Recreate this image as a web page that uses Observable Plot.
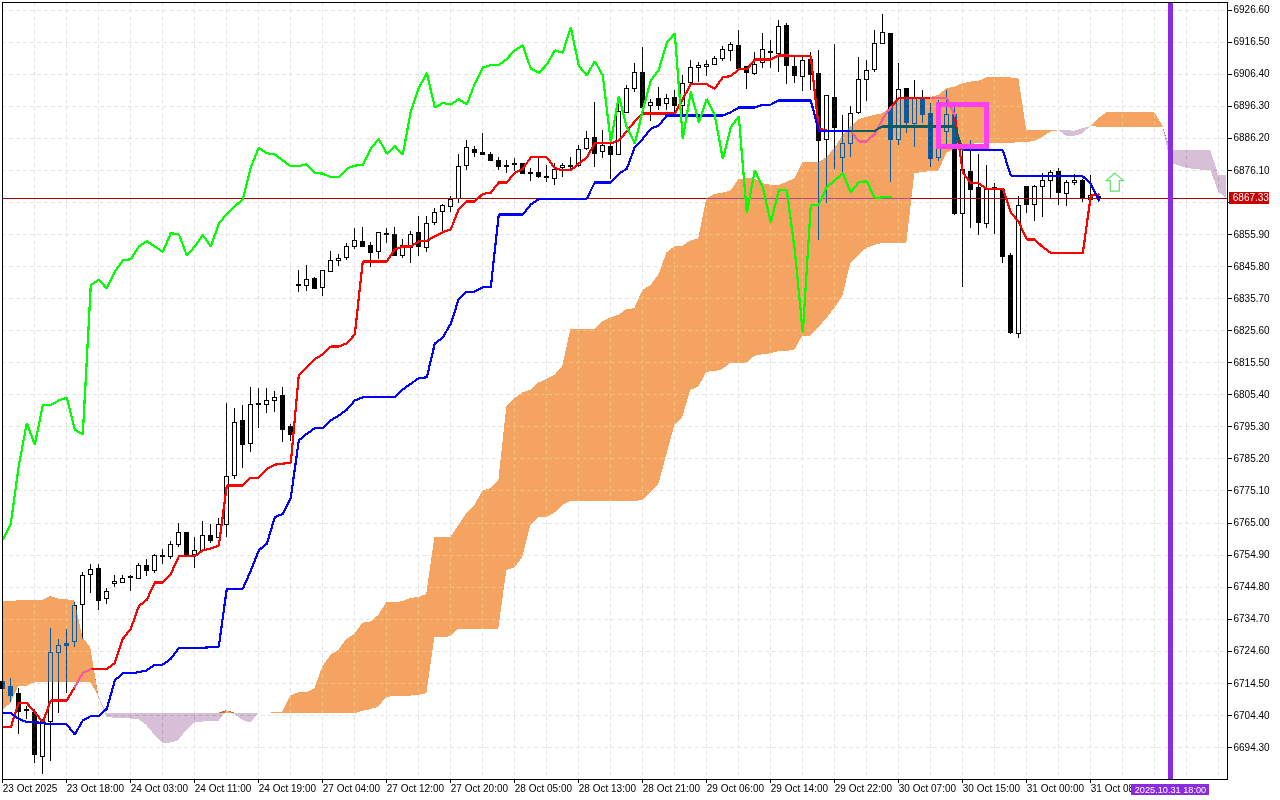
<!DOCTYPE html>
<html>
<head>
<meta charset="utf-8">
<style>html,body{margin:0;padding:0;background:#fff;overflow:hidden}svg{display:block}</style>
<script src="https://cdn.jsdelivr.net/npm/d3@7"></script>
<script src="https://cdn.jsdelivr.net/npm/@observablehq/plot@0.6"></script>
</head>
<body>
<div id="chart"></div>
<script>
const opens = [
6714.8,6713.2,6711.0,6706.0,6705.2,6691.2,6702.3,6724.1,6727.0,6727.5,
6739.3,6748.7,6750.6,6741.0,6745.9,6746.2,6747.9,6747.4,6751.6,6749.8,
6754.7,6754.3,6758.1,6761.9,6754.8,6756.1,6761.0,6760.2,6764.5,6779.8,
6797.2,6790.0,6802.6,6802.2,6803.5,6804.9,6795.3,6840.0,6839.7,6841.8,
6839.1,6844.1,6847.6,6848.4,6851.9,6853.6,6852.4,6850.4,6856.1,6855.8,
6849.1,6851.7,6856.4,6851.7,6859.5,6863.0,6864.6,6867.1,6877.5,6882.6,
6881.7,6881.0,6879.1,6877.6,6878.2,6878.2,6875.3,6875.3,6874.1,6873.3,
6876.9,6877.3,6877.6,6882.9,6886.3,6881.8,6883.6,6881.0,6894.2,6901.7,
6906.8,6896.3,6898.6,6896.9,6899.0,6896.3,6903.6,6908.4,6908.7,6909.4,
6911.1,6913.8,6915.4,6908.6,6906.4,6910.0,6913.4,6912.6,6921.6,6908.8,
6905.6,6910.9,6906.3,6885.7,6899.0,6880.1,6884.5,6894.1,6904.6,6907.6,
6916.0,6919.2,6885.7,6901.6,6890.8,6898.4,6893.7,6880.0,6888.1,6893.4,
6862.4,6875.7,6870.4,6859.3,6870.4,6869.8,6849.0,6824.6,6870.7,6865.1,
6870.8,6872.8,6875.7,6868.7,6872.2,6872.6,6866.8,6867.5];
const highs = [
6715.4,6716.1,6713.0,6707.3,6706.3,6703.1,6731.7,6728.3,6731.4,6739.9,
6749.5,6751.9,6751.9,6744.3,6748.4,6748.5,6748.5,6752.2,6753.4,6755.1,
6756.6,6759.2,6764.8,6762.0,6760.4,6765.5,6764.5,6766.4,6802.6,6801.0,
6802.0,6807.6,6807.3,6807.3,6806.4,6807.8,6796.0,6844.6,6846.1,6842.3,
6844.6,6850.5,6849.5,6853.1,6857.8,6858.0,6853.3,6856.5,6857.9,6858.0,
6854.2,6856.7,6861.5,6861.5,6864.0,6865.3,6867.9,6881.0,6885.5,6883.6,
6887.8,6881.6,6880.1,6879.2,6879.7,6878.3,6876.8,6880.2,6877.6,6878.2,
6878.4,6880.2,6883.9,6888.4,6897.4,6888.6,6886.5,6897.6,6902.8,6909.7,
6914.7,6898.3,6902.1,6900.0,6901.3,6906.0,6910.7,6910.2,6910.7,6912.0,
6915.1,6916.5,6920.2,6908.8,6913.1,6919.1,6917.0,6923.3,6922.4,6912.0,
6911.7,6913.2,6913.9,6899.7,6915.6,6893.4,6896.2,6911.7,6910.7,6920.2,
6925.2,6919.2,6909.7,6901.8,6904.4,6901.3,6897.2,6898.1,6901.3,6896.0,
6882.4,6885.5,6881.0,6877.6,6871.9,6870.3,6849.8,6867.9,6870.8,6871.3,
6875.0,6876.1,6876.6,6872.9,6874.8,6873.1,6874.5,6868.7];
const lows = [
6706.0,6708.4,6698.4,6703.1,6689.4,6685.8,6690.0,6704.9,6711.4,6725.9,
6728.2,6742.9,6737.5,6739.3,6744.8,6745.9,6743.5,6747.4,6748.2,6749.2,
6751.9,6753.4,6757.4,6754.6,6750.6,6755.7,6758.5,6760.1,6760.5,6778.7,
6782.3,6787.3,6794.9,6799.6,6799.9,6790.5,6790.8,6837.7,6838.0,6838.5,
6836.5,6843.8,6845.9,6847.7,6851.2,6851.8,6845.6,6848.0,6853.0,6849.0,
6848.4,6846.9,6849.0,6850.3,6858.7,6856.9,6862.9,6865.6,6876.1,6880.2,
6880.8,6878.9,6876.1,6875.2,6875.8,6874.8,6872.7,6873.4,6872.4,6871.3,
6873.9,6876.1,6877.1,6882.4,6876.9,6879.7,6873.2,6880.9,6893.9,6900.7,
6895.5,6891.6,6895.0,6895.0,6893.9,6892.8,6902.3,6903.9,6905.8,6909.1,
6910.4,6910.5,6907.6,6901.6,6906.0,6908.1,6908.1,6907.0,6903.1,6903.4,
6901.0,6901.3,6854.0,6865.8,6876.5,6875.1,6880.1,6893.7,6897.9,6907.0,
6916.0,6872.4,6883.9,6887.8,6883.4,6890.8,6877.1,6878.9,6884.2,6861.9,
6839.3,6857.9,6855.6,6857.7,6855.9,6846.9,6824.3,6823.2,6862.6,6860.1,
6861.3,6867.3,6865.0,6864.8,6871.3,6866.1,6866.1,6866.6];
const closes = [
6712.6,6710.5,6705.4,6705.8,6691.9,6702.8,6724.1,6726.3,6726.4,6738.9,
6748.4,6750.3,6740.6,6743.3,6746.5,6747.4,6747.8,6751.5,6749.8,6754.5,
6754.4,6758.1,6761.9,6754.8,6756.3,6761.0,6759.3,6764.5,6779.4,6796.6,
6789.7,6802.2,6802.1,6803.4,6804.5,6794.2,6792.6,6839.6,6841.5,6838.8,
6844.5,6847.6,6848.2,6852.0,6853.9,6851.9,6850.2,6856.4,6855.7,6849.2,
6852.2,6855.8,6852.0,6859.3,6862.7,6864.9,6866.8,6877.2,6883.1,6881.6,
6880.9,6879.0,6877.1,6877.2,6877.9,6874.9,6875.0,6873.9,6873.8,6876.3,
6877.5,6877.6,6882.6,6885.9,6881.2,6883.8,6880.9,6894.4,6901.7,6906.8,
6895.7,6897.3,6896.5,6898.6,6896.5,6903.4,6908.3,6909.0,6909.4,6911.2,
6914.1,6915.6,6908.0,6906.7,6909.4,6914.1,6913.0,6921.2,6908.9,6905.8,
6910.6,6906.0,6885.3,6899.6,6889.4,6884.5,6893.9,6904.6,6907.5,6916.0,
6919.4,6885.7,6901.3,6891.0,6898.6,6893.4,6879.6,6885.7,6893.4,6862.2,
6876.3,6869.8,6859.5,6870.0,6870.1,6848.9,6824.9,6864.9,6865.1,6870.7,
6872.8,6875.4,6869.0,6872.2,6872.9,6867.0,6868.0,6867.6];
const tenkan = [
6700.7,6700.7,6708.3,6708.3,6705.4,6702.3,6709.1,6709.1,6709.1,6713.3,
6717.8,6718.9,6719.0,6719.0,6720.9,6728.5,6731.7,6738.8,6740.8,6746.3,
6746.3,6749.0,6754.5,6754.5,6754.5,6756.4,6757.0,6757.8,6776.8,6776.8,
6776.8,6779.3,6779.3,6782.1,6783.4,6783.7,6784.0,6811.7,6814.1,6816.7,
6818.1,6820.6,6820.6,6821.6,6824.4,6847.4,6847.4,6847.4,6847.4,6851.2,
6852.1,6852.1,6853.7,6853.9,6855.3,6856.6,6857.5,6864.0,6866.3,6866.3,
6868.7,6869.0,6872.3,6872.3,6875.3,6876.6,6880.2,6880.2,6880.2,6876.8,
6876.1,6876.1,6878.2,6880.2,6884.6,6884.6,6884.6,6885.5,6888.4,6891.5,
6894.0,6894.0,6894.0,6894.0,6894.0,6898.6,6903.2,6903.2,6903.2,6901.8,
6905.4,6905.8,6907.9,6907.9,6911.0,6911.0,6911.0,6912.3,6912.3,6912.1,
6912.1,6912.1,6889.2,6888.6,6888.6,6888.6,6888.6,6885.2,6885.2,6887.6,
6892.3,6896.0,6898.8,6898.8,6898.8,6898.8,6898.8,6898.8,6898.8,6893.4,
6875.4,6872.0,6872.0,6870.3,6870.3,6870.3,6862.9,6859.8,6854.3,6854.3,
6851.9,6850.1,6850.0,6850.0,6850.0,6850.0,6868.1,6868.5];
const kijun = [
6705.1,6705.1,6703.3,6702.3,6702.3,6702.0,6701.6,6701.6,6701.6,6698.4,
6702.8,6704.2,6704.2,6706.5,6715.4,6717.7,6717.7,6718.0,6718.6,6720.4,
6720.4,6722.2,6725.6,6725.6,6725.6,6725.7,6725.9,6726.1,6744.3,6744.3,
6744.3,6750.0,6756.4,6758.5,6766.8,6767.9,6773.0,6791.0,6793.1,6794.9,
6794.9,6797.3,6798.9,6800.7,6803.6,6804.6,6804.6,6804.6,6804.6,6804.6,
6807.1,6808.9,6810.6,6810.9,6821.5,6823.5,6827.8,6835.6,6837.9,6837.9,
6839.3,6839.3,6862.2,6862.2,6862.2,6862.2,6865.3,6867.0,6867.0,6867.0,
6867.0,6867.0,6867.0,6867.2,6872.3,6872.3,6872.3,6875.0,6876.6,6883.4,
6886.0,6889.2,6890.2,6893.4,6893.4,6893.4,6893.4,6893.4,6893.4,6893.4,
6893.4,6894.4,6895.9,6895.9,6895.9,6896.8,6896.8,6898.1,6898.1,6898.1,
6898.1,6898.1,6888.6,6888.6,6888.6,6888.6,6888.6,6888.6,6888.6,6888.6,
6889.9,6889.9,6889.9,6889.9,6889.9,6889.9,6889.9,6889.9,6889.9,6889.9,
6882.4,6882.4,6882.4,6882.4,6882.4,6882.4,6874.5,6874.2,6874.2,6874.2,
6874.2,6874.2,6874.2,6874.2,6874.2,6874.2,6871.9,6866.6];
const chikou = [
6759.8,6764.8,6783.1,6796.5,6789.7,6802.2,6802.2,6803.6,6804.5,6794.4,
6792.9,6840.0,6841.6,6838.9,6844.2,6847.7,6848.1,6852.1,6853.8,6852.1,
6850.4,6856.3,6856.0,6849.3,6852.1,6855.7,6852.1,6859.3,6862.4,6864.8,
6866.9,6877.1,6883.2,6881.5,6881.1,6879.2,6877.4,6877.4,6878.0,6875.2,
6875.1,6873.9,6873.9,6876.6,6877.6,6877.8,6882.9,6886.0,6881.3,6883.7,
6881.0,6894.7,6902.0,6906.8,6895.9,6897.3,6896.8,6898.5,6896.8,6903.4,
6908.5,6909.2,6909.2,6911.2,6913.9,6915.5,6908.1,6906.8,6909.4,6913.9,
6913.2,6921.2,6909.0,6906.0,6910.5,6906.0,6885.0,6899.5,6889.7,6884.5,
6895.0,6904.4,6907.8,6916.3,6919.3,6886.0,6900.9,6891.1,6898.6,6893.4,
6879.7,6889.7,6893.1,6862.6,6876.1,6870.8,6859.7,6869.8,6869.8,6850.9,
6824.9,6865.0,6865.3,6870.8,6872.9,6875.2,6869.1,6872.4,6872.7,6867.3,
6867.6,6867.6];
const spanA = [
6740.3,6740.3,6740.5,6740.6,6740.6,6740.6,6741.9,6741.0,6740.8,6740.6,
6729.0,6725.7,6710.0,6703.8,6703.5,6703.3,6703.3,6703.1,6701.2,6698.1,
6695.5,6695.7,6696.5,6699.7,6702.0,6702.3,6702.5,6702.5,6705.9,6704.7,
6702.8,6702.0,6705.1,6705.1,6705.2,6705.4,6710.5,6711.5,6711.5,6712.8,
6719.6,6723.3,6724.9,6728.3,6729.9,6733.4,6733.8,6735.9,6739.9,6739.9,
6740.2,6741.3,6741.5,6742.5,6760.4,6760.4,6760.4,6764.2,6767.9,6770.5,
6775.0,6775.8,6778.2,6801.5,6804.1,6806.0,6806.8,6809.1,6810.2,6811.5,
6814.3,6825.9,6826.0,6826.0,6826.0,6828.3,6829.6,6830.4,6832.2,6832.5,
6838.3,6839.8,6843.0,6850.0,6852.1,6852.2,6853.8,6854.5,6867.1,6868.5,
6868.9,6869.5,6873.1,6873.4,6873.4,6871.9,6871.4,6871.3,6872.3,6873.4,
6878.5,6878.5,6878.5,6880.1,6882.9,6887.1,6889.7,6892.0,6892.8,6893.4,
6893.9,6895.8,6898.1,6898.8,6898.8,6898.8,6899.1,6899.7,6901.8,6902.3,
6903.4,6903.9,6904.1,6905.2,6905.2,6905.2,6905.2,6905.1,6888.6,6888.6,
6888.6,6888.6,6888.6,6886.8,6886.8,6887.6,6889.9,6892.3,6894.2,6894.2,
6894.2,6894.2,6894.2,6894.2,6894.2,6890.2,6878.3,6877.6,6876.7,6876.4,
6876.1,6876.1,6869.2,6867.1];
const spanB = [
6706.0,6708.1,6713.6,6713.6,6714.7,6714.7,6714.7,6714.7,6714.7,6714.7,
6714.7,6714.7,6710.4,6705.1,6705.1,6705.1,6705.1,6705.1,6705.1,6705.1,
6705.1,6705.1,6705.1,6705.1,6705.1,6705.1,6705.1,6705.1,6705.1,6705.1,
6705.1,6705.1,6705.1,6705.1,6705.1,6705.1,6705.1,6705.1,6705.1,6705.1,
6705.1,6705.1,6705.1,6705.1,6704.9,6705.7,6706.2,6707.0,6710.1,6710.3,
6710.3,6710.5,6710.7,6711.2,6728.9,6728.9,6729.2,6731.6,6731.6,6731.6,
6731.6,6731.6,6731.6,6750.0,6750.8,6754.2,6764.2,6766.7,6766.7,6768.1,
6770.5,6771.8,6771.8,6771.8,6771.8,6771.8,6771.8,6771.8,6771.8,6771.8,
6772.1,6774.6,6777.1,6786.4,6795.7,6798.3,6806.8,6807.8,6812.5,6812.7,
6813.3,6815.4,6815.4,6815.4,6817.5,6818.0,6818.3,6819.0,6819.1,6819.4,
6823.9,6823.9,6826.5,6829.4,6832.6,6836.4,6846.8,6849.3,6851.5,6852.4,
6853.1,6853.1,6853.1,6853.1,6875.1,6875.4,6875.7,6875.8,6881.4,6882.7,
6883.9,6884.2,6884.6,6884.6,6884.6,6884.6,6884.6,6884.8,6884.8,6885.3,
6886.5,6888.1,6888.6,6888.6,6888.4,6889.2,6889.9,6889.7,6889.7,6889.7,
6889.7,6889.7,6889.7,6889.7,6889.7,6889.7,6882.4,6882.4,6882.4,6882.4,
6882.4,6882.4,6874.5,6874.5];
const priceTicks = [6926.6,6916.5,6906.4,6896.3,6886.2,6876.1,6866.0,6855.9,6845.8,6835.7,6825.6,6815.5,6805.4,6795.3,6785.2,6775.1,6765.0,6754.9,6744.8,6734.7,6724.6,6714.5,6704.4,6694.3];
const hiddenPriceTick = 6866.0;
const timeTicks = [0,8,16,24,32,40,48,56,64,72,80,88,96,104,112,120,128,136];
const timeLabels = ["23 Oct 2025","23 Oct 18:00","24 Oct 03:00","24 Oct 11:00","24 Oct 19:00","27 Oct 04:00","27 Oct 12:00","27 Oct 20:00","28 Oct 05:00","28 Oct 13:00","28 Oct 21:00","29 Oct 06:00","29 Oct 14:00","29 Oct 22:00","30 Oct 07:00","30 Oct 15:00","31 Oct 00:00","31 Oct 08"];
const lastPrice = 6867.33;
const markerBar = 146;
const markerLabel = "2025.10.31 18:00";
const arrowBar = 139, arrowPrice = 6872.4;
const boxBars = [117.03, 123.03], boxPrices = [6896.7, 6883.6];

const FONT = '"Liberation Sans", Arial, sans-serif';
const bars = opens.map((o, i) => ({i, o, h: highs[i], l: lows[i], c: closes[i], top: Math.max(o, closes[i]), bot: Math.min(o, closes[i]), t: tenkan[i], k: kijun[i]}));
const cloud = spanA.map((a, i) => ({i, a, b: spanB[i], hi: Math.max(a, spanB[i])}));
const lag = chikou.map((v, i) => ({i, v}));
const gridX = d3.range(4, 154, 4);
const crisp = {shapeRendering: "crispEdges"};
const gridStyle = {strokeDasharray: "4,3", ...crisp};
const arrowSymbol = {draw(c, size) {
  const r = Math.sqrt(size / Math.PI), u = r / 9;
  c.moveTo(0, -9*u); c.lineTo(8.5*u, -1.5*u); c.lineTo(4.5*u, -1.5*u); c.lineTo(4.5*u, 9*u);
  c.lineTo(-4.5*u, 9*u); c.lineTo(-4.5*u, -1.5*u); c.lineTo(-8.5*u, -1.5*u); c.closePath();
}};
const pick = (a, b) => bars.filter(d => d.i >= a && d.i <= b);
const lineOpt = (y, stroke) => ({x: "i", y, stroke, strokeWidth: 2.2, strokeLinejoin: "miter", ...crisp});

const chart = Plot.plot({
  width: 1280, height: 800,
  marginLeft: 2, marginTop: 2, marginRight: 53, marginBottom: 21,
  style: {background: "white", fontFamily: FONT, fontSize: "10px", color: "black", overflow: "visible"},
  x: {domain: [-0.0375, 153.09], axis: null},
  y: {domain: [6684.215, 6928.97], axis: null},
  marks: [
    Plot.frame({fill: "white", stroke: "none"}),
    Plot.ruleY(priceTicks, {stroke: "#e3e3e3", ...gridStyle}),
    Plot.ruleX(gridX, {stroke: "#e3e3e3", ...gridStyle}),
    Plot.areaY(cloud, {x: "i", y1: "b", y2: "hi", fill: "#F4A460", ...crisp}),
    Plot.ruleY(priceTicks, {stroke: "#e5be7a", mixBlendMode: "lighten", ...gridStyle}),
    Plot.ruleX(gridX, {stroke: "#e5be7a", mixBlendMode: "lighten", ...gridStyle}),
    Plot.areaY(cloud, {x: "i", y1: "a", y2: "hi", fill: "#274027", mixBlendMode: "difference", ...crisp}),
    Plot.ruleX(bars, {x: "i", y1: "h", y2: "top", stroke: "white", className: "cndl", ...crisp}),
    Plot.ruleX(bars, {x: "i", y1: "l", y2: "bot", stroke: "white", className: "cndl", ...crisp}),
    Plot.rect(bars, {x1: d => d.i - 0.25, x2: d => d.i + 0.25, y1: "top", y2: "bot", fill: d => d.c > d.o ? "none" : "white", stroke: "white", className: "cndl", ...crisp}),
    Plot.ruleY([lastPrice], {stroke: "#a80000", ...crisp}),
    Plot.ruleY([lastPrice], {x1: 88, x2: 113.6, stroke: "#a8508f", ...crisp}),
    Plot.line(bars, lineOpt("t", "#ff0000")),
    Plot.line(pick(9, 11), lineOpt("t", "#f45b9f")),
    Plot.line(pick(106, 111), lineOpt("t", "#f45b9f")),
    Plot.line(pick(116, 119), lineOpt("t", "#f45b9f")),
    Plot.line(bars, lineOpt("k", "#0000ff")),
    Plot.line(pick(106, 120), lineOpt("k", "#0b5b60")),
    Plot.line(lag, lineOpt("v", "#00ff00")),
    Plot.rect([0], {x1: boxBars[0], x2: boxBars[1], y1: boxPrices[0], y2: boxPrices[1], fill: "none", stroke: "#ff3ff2", strokeWidth: 5, ...crisp}),
    Plot.dot([0], {x: arrowBar, y: arrowPrice, r: 9, symbol: arrowSymbol, fill: "white", stroke: "#62e062", strokeWidth: 1.2}),
    Plot.ruleX([markerBar], {stroke: "#8a2be2", strokeWidth: 5, ...crisp}),
    Plot.frame({stroke: "black", ...crisp}),
    Plot.axisY(priceTicks, {anchor: "right", tickSize: 4, tickPadding: 2, label: null, tickFormat: d => d === hiddenPriceTick ? "" : d.toFixed(2), fontSize: 10, stroke: "black", ...crisp}),
    Plot.axisX(timeTicks, {anchor: "bottom", tickSize: 4, tickPadding: 1, label: null, tickFormat: d => timeLabels[timeTicks.indexOf(d)], textAnchor: "start", fontSize: 10, stroke: "black", ...crisp}),
    Plot.rect([0], {x1: 153.4, x2: 158.4, y1: 6869.1, y2: 6865.3, fill: "#c80000", ...crisp}),
    Plot.text([lastPrice], {x: 153.75, y: d => d, text: d => d.toFixed(2), textAnchor: "start", fill: "white", fontSize: 10}),
    Plot.rect([0], {x1: 141.09, x2: 150.84, y1: 6682.6, y2: 6679.2, fill: "#8a2be2", ...crisp}),
    Plot.text([markerLabel], {x: 145.96, y: 6680.9, text: d => d, fill: "white", fontSize: 9.2})
  ]
});
const cndl = chart.querySelectorAll(".cndl");
if (cndl.length) {
  const g = document.createElementNS("http://www.w3.org/2000/svg", "g");
  g.style.mixBlendMode = "difference";
  cndl[0].parentNode.insertBefore(g, cndl[0]);
  cndl.forEach(n => g.appendChild(n));
}
document.getElementById("chart").appendChild(chart);
</script>
</body>
</html>
